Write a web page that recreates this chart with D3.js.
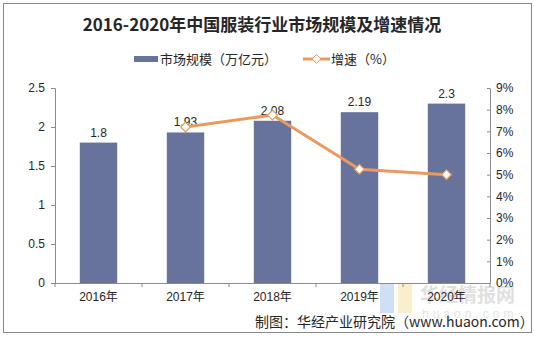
<!DOCTYPE html>
<html>
<head>
<meta charset="utf-8">
<script src="https://cdn.jsdelivr.net/npm/d3@7"></script>
<style>
  body { margin: 0; background: #fff; }
  svg { display: block; }
</style>
</head>
<body>
<script>
// data
let years = ['2016年', '2017年', '2018年', '2019年', '2020年']
let marketSize = [1.8, 1.93, 2.08, 2.19, 2.3]
let growthYears = ['2017年', '2018年', '2019年', '2020年']
let growth = [7.2, 7.75, 5.25, 5.0]
let leftTicks = [0, 0.5, 1, 1.5, 2, 2.5]
let rightTicks = [0, 1, 2, 3, 4, 5, 6, 7, 8, 9]

let width = 534, height = 338
let barColor = '#68739b'
let lineColor = '#eb9a5e'
let axisColor = '#8c8c8c'
let font = 'Arial, "Liberation Sans", "Noto Sans CJK SC", sans-serif'

let svg = d3.select('body').append('svg')
  .attr('width', width)
  .attr('height', height)

// outer frame
svg.append('rect')
  .attr('x', 3.5).attr('y', 3.5)
  .attr('width', 528).attr('height', 329)
  .attr('fill', '#fff')
  .attr('stroke', '#8a8a8a')

// title
svg.append('text')
  .attr('x', 262).attr('y', 31)
  .attr('text-anchor', 'middle')
  .attr('font-family', '"Noto Sans CJK SC", sans-serif')
  .attr('font-weight', 'bold')
  .attr('font-size', 17)
  .attr('fill', '#262626')
  .text('2016-2020年中国服装行业市场规模及增速情况')

// scales
let x = d3.scaleBand().domain(years).range([55, 490])
let yLeft = d3.scaleLinear().domain([0, 2.5]).range([283, 88])
let yRight = d3.scaleLinear().domain([0, 9]).range([283, 88])

// watermark (faint, behind marks)
let wm = svg.append('g').attr('opacity', 0.55)
wm.append('rect').attr('x', 380).attr('y', 283).attr('width', 14).attr('height', 30).attr('fill', '#a9c8f0')
wm.append('rect').attr('x', 398).attr('y', 283).attr('width', 14).attr('height', 30).attr('fill', '#f7e3a3')
wm.append('text').attr('x', 420).attr('y', 302)
  .attr('font-family', '"Noto Sans CJK SC", sans-serif').attr('font-weight', 'bold')
  .attr('font-size', 19).attr('fill', '#c8c8c8').text('华经情报网')
wm.append('text').attr('x', 422).attr('y', 318)
  .attr('font-family', font).attr('font-size', 12).attr('letter-spacing', 4)
  .attr('fill', '#cfcfcf').text('huaon.com')

// bars
svg.selectAll('.bar')
  .data(years)
  .enter()
  .append('rect')
  .attr('class', 'bar')
  .attr('x', (d, i) => x(d) + x.bandwidth() * 0.285)
  .attr('y', (d, i) => yLeft(marketSize[i]))
  .attr('width', x.bandwidth() * 0.43)
  .attr('height', (d, i) => yLeft(0) - yLeft(marketSize[i]))
  .attr('fill', barColor)

// bar labels
svg.selectAll('.barLabel')
  .data(years)
  .enter()
  .append('text')
  .attr('x', d => x(d) + x.bandwidth() / 2)
  .attr('y', (d, i) => yLeft(marketSize[i]) - 6)
  .attr('text-anchor', 'middle')
  .attr('font-family', font)
  .attr('font-size', 12)
  .attr('fill', '#262626')
  .text((d, i) => marketSize[i])

// left axis
let leftAxis = svg.append('g')
  .attr('transform', 'translate(55,0)')
  .call(d3.axisLeft(yLeft).tickValues(leftTicks).tickSize(4).tickPadding(6)
    .tickFormat(d => d))
leftAxis.selectAll('text').attr('font-family', font).attr('font-size', 12).attr('fill', '#262626')

// right axis
let rightAxis = svg.append('g')
  .attr('transform', 'translate(490,0)')
  .call(d3.axisRight(yRight).tickValues(rightTicks).tickSize(0).tickPadding(6)
    .tickFormat(d => d + '%'))
rightAxis.selectAll('text').attr('font-family', font).attr('font-size', 12).attr('fill', '#262626')
rightAxis.selectAll('.tick').append('line')
  .attr('x1', -3).attr('x2', 0).attr('stroke', axisColor)

// bottom axis
let bottomAxis = svg.append('g')
  .attr('transform', 'translate(0,283)')
  .call(d3.axisBottom(x).tickSize(0).tickPadding(9))
bottomAxis.selectAll('text').attr('font-family', font).attr('font-size', 12).attr('fill', '#262626')
bottomAxis.selectAll('.boundary')
  .data(d3.range(years.length + 1))
  .enter()
  .append('line')
  .attr('x1', i => 55 + i * x.step()).attr('x2', i => 55 + i * x.step())
  .attr('y1', 0).attr('y2', 4)
  .attr('stroke', axisColor)

svg.selectAll('.domain, .tick line').attr('stroke', axisColor)
bottomAxis.select('.domain').attr('d', 'M55,0.5H490')

// growth line
let line = d3.line()
  .x((d, i) => x(growthYears[i]) + x.bandwidth() / 2)
  .y(d => yRight(d))

svg.append('path')
  .datum(growth)
  .attr('d', line)
  .attr('fill', 'none')
  .attr('stroke', lineColor)
  .attr('stroke-width', 3)

svg.selectAll('.marker')
  .data(growth)
  .enter()
  .append('path')
  .attr('d', d3.symbol(d3.symbolDiamond2, 60))
  .attr('transform', (d, i) => 'translate(' + (x(growthYears[i]) + x.bandwidth() / 2) + ',' + yRight(d) + ')')
  .attr('fill', '#fff')
  .attr('stroke', lineColor)
  .attr('stroke-width', 1.2)

// legend
let legend = svg.append('g')
legend.append('rect')
  .attr('x', 134).attr('y', 56).attr('width', 24).attr('height', 6)
  .attr('fill', barColor)
legend.append('text')
  .attr('x', 160).attr('y', 64)
  .attr('font-family', '"Noto Sans CJK SC", sans-serif')
  .attr('font-size', 13).attr('fill', '#262626')
  .text('市场规模（万亿元）')
legend.append('line')
  .attr('x1', 303).attr('x2', 330).attr('y1', 59).attr('y2', 59)
  .attr('stroke', lineColor).attr('stroke-width', 3)
legend.append('path')
  .attr('d', d3.symbol(d3.symbolDiamond2, 50))
  .attr('transform', 'translate(316.5,59)')
  .attr('fill', '#fff').attr('stroke', lineColor)
legend.append('text')
  .attr('x', 331).attr('y', 64)
  .attr('font-family', '"Noto Sans CJK SC", sans-serif')
  .attr('font-size', 13).attr('fill', '#262626')
  .text('增速（%）')

// source
svg.append('text')
  .attr('x', 255).attr('y', 327)
  .attr('font-family', '"Noto Sans CJK SC", sans-serif')
  .attr('font-size', 14).attr('fill', '#262626')
  .text('制图：华经产业研究院（www.huaon.com）')
</script>
</body>
</html>
